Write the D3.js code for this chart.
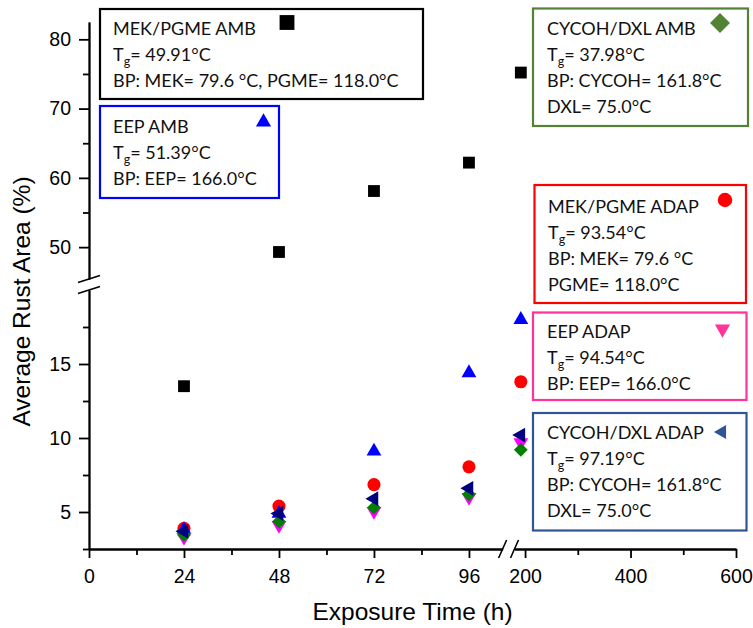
<!DOCTYPE html>
<html>
<head>
<meta charset="utf-8">
<script src="https://cdn.jsdelivr.net/npm/d3@7"></script>
<style>
  body { margin: 0; background: #fff; }
  text { font-family: "Liberation Sans", Arial, sans-serif; }
</style>
</head>
<body>
<svg id="chart" width="753" height="628"></svg>
<script>
// Exposure times (h) and average rust area (%) per coating
const hours = [24, 48, 72, 96, 192];
const mekPgmeAmb = [13.5, 49.3, 58.1, 62.2, 75.2];
const eepAmb = [3.8, 4.9, 9.1, 14.4, 18.0];
const cycohDxlAmb = [3.45, 4.35, 5.3, 6.2, 9.2];
const mekPgmeAdap = [3.9, 5.4, 6.85, 8.05, 13.8];
const eepAdap = [3.3, 4.1, 5.05, 6.0, 9.7];
const cycohDxlAdap = [3.7, 4.9, 5.9, 6.6, 10.2];

// tick labels
const xTicksLow = [0, 24, 48, 72, 96];
const xMinorLow = [12, 36, 60, 84];
const xTicksHigh = [200, 400, 600];
const xMinorHigh = [300, 500];
const yTicksLow = [5, 10, 15];
const yMinorLow = [2.5, 7.5, 12.5, 17.5];
const yTicksHigh = [50, 60, 70, 80];
const yMinorHigh = [55, 65, 75];

// legend texts
const legendNames = ["MEK/PGME AMB", "EEP AMB", "CYCOH/DXL AMB", "MEK/PGME ADAP", "EEP ADAP", "CYCOH/DXL ADAP"];
const legendTg = ["49.91", "51.39", "37.98", "93.54", "94.54", "97.19"];
const legendBP = [
  ["BP: MEK= 79.6 °C, PGME= 118.0°C"],
  ["BP: EEP= 166.0°C"],
  ["BP: CYCOH= 161.8°C", "DXL= 75.0°C"],
  ["BP: MEK= 79.6 °C", "PGME= 118.0°C"],
  ["BP: EEP= 166.0°C"],
  ["BP: CYCOH= 161.8°C", "DXL= 75.0°C"]
];

const seriesValues = [mekPgmeAmb, eepAmb, cycohDxlAmb, mekPgmeAdap, eepAdap, cycohDxlAdap];
const markerColors = ["#000000", "#0000ff", "#008000", "#ff0000", "#ff00ff", "#000080"];
const legendColors = ["#000000", "#0000ff", "#548235", "#ff0000", "#ff3399", "#2f5597"];
const shapes = [
  { type: d3.symbolSquare, rot: 0, size: 140, lsize: 220 },
  { type: d3.symbolTriangle, rot: 0, size: 95, lsize: 100 },
  { type: d3.symbolSquare, rot: 45, size: 95, lsize: 200 },
  { type: d3.symbolCircle, rot: 0, size: 135, lsize: 165 },
  { type: d3.symbolTriangle, rot: 180, size: 95, lsize: 100 },
  { type: d3.symbolTriangle, rot: -90, size: 95, lsize: 85 }
];
const drawOrder = [0, 3, 1, 4, 2, 5];

// legend box layout
const boxes = [
  { x: 100, y: 9, w: 323, h: 90, tx: 113, ty: 35, sx: 287, sy: 22.5 },
  { x: 100, y: 106, w: 179, h: 92, tx: 113, ty: 133, sx: 263.5, sy: 122 },
  { x: 533, y: 8.5, w: 215, h: 117.5, tx: 547, ty: 35, sx: 720, sy: 23 },
  { x: 534.5, y: 185, w: 211.5, h: 118, tx: 548, ty: 213, sx: 725, sy: 200 },
  { x: 533, y: 312.5, w: 213.5, h: 87.5, tx: 547, ty: 338, sx: 722.5, sy: 329 },
  { x: 533, y: 413, w: 213.5, h: 117.5, tx: 547, ty: 439, sx: 722, sy: 432 }
];

const svg = d3.select("#chart");

// broken scales
const xLow = d3.scaleLinear().domain([0, 104.5]).range([89, 502.6]);
const xHigh = d3.scaleLinear().domain([180, 600]).range([514.5, 736]);
const yLow = d3.scaleLinear().domain([2.5, 20]).range([549, 290]);
const yHigh = d3.scaleLinear().domain([45.4, 82.5]).range([279, 22]);
const xPos = t => t <= 104.5 ? xLow(t) : xHigh(t);
const yPos = v => v <= 20 ? yLow(v) : yHigh(v);

function styleAxis(g, labelSize) {
  g.select(".domain").attr("stroke", "#000").attr("stroke-width", 1.8);
  g.selectAll(".tick line").attr("stroke", "#000").attr("stroke-width", 1.8);
  g.selectAll(".tick text")
    .attr("fill", "#000")
    .style("font-family", "'Liberation Sans', Arial, sans-serif")
    .style("font-size", labelSize + "px");
}

// y axes
[[yLow, yTicksLow, yMinorLow], [yHigh, yTicksHigh, yMinorHigh]].forEach(([sc, major, minor]) => {
  svg.append("g").attr("transform", "translate(89,0)")
    .call(d3.axisLeft(sc).tickValues(minor).tickSize(6).tickSizeOuter(0).tickFormat(""))
    .call(g => styleAxis(g, 19.5));
  svg.append("g").attr("transform", "translate(89,0)")
    .call(d3.axisLeft(sc).tickValues(major).tickSize(10).tickSizeOuter(0).tickPadding(8).tickFormat(d3.format("d")))
    .call(g => styleAxis(g, 19.5));
});

// x axes
[[xLow, xTicksLow, xMinorLow], [xHigh, xTicksHigh, xMinorHigh]].forEach(([sc, major, minor]) => {
  svg.append("g").attr("transform", "translate(0,549)")
    .call(d3.axisBottom(sc).tickValues(minor).tickSize(6).tickSizeOuter(0).tickFormat(""))
    .call(g => styleAxis(g, 19.5));
  svg.append("g").attr("transform", "translate(0,549)")
    .call(d3.axisBottom(sc).tickValues(major).tickSize(9).tickSizeOuter(0).tickPadding(11).tickFormat(d3.format("d")))
    .call(g => styleAxis(g, 19.5));
});

// break marks
const breaks = svg.append("g").attr("stroke", "#000").attr("stroke-width", 1.6);
[yLow.range()[1], yHigh.range()[0]].forEach(yy => {
  breaks.append("line").attr("x1", 78).attr("y1", yy + 3.5).attr("x2", 100).attr("y2", yy - 3.5);
});
[xLow.range()[1], xHigh.range()[0]].forEach(xx => {
  breaks.append("line").attr("x1", xx - 4).attr("y1", 558).attr("x2", xx + 4).attr("y2", 540);
});

// axis titles
svg.append("text")
  .attr("x", 412.5).attr("y", 620)
  .attr("text-anchor", "middle")
  .style("font-size", "24.5px")
  .text("Exposure Time (h)");

svg.append("text")
  .attr("transform", "translate(30,301.5) rotate(-90)")
  .attr("text-anchor", "middle")
  .style("font-size", "24.5px")
  .text("Average Rust Area (%)");

// data markers
const symbolPath = (i, big) => d3.symbol().type(shapes[i].type).size(big ? shapes[i].lsize : shapes[i].size)();

drawOrder.forEach(i => {
  svg.append("g")
    .selectAll("path")
    .data(hours.map((h, k) => ({ h: h, v: seriesValues[i][k] })))
    .join("path")
    .attr("d", symbolPath(i, false))
    .attr("transform", d => `translate(${xPos(d.h)},${yPos(d.v)}) rotate(${shapes[i].rot})`)
    .attr("fill", markerColors[i]);
});

// legend boxes
boxes.forEach((b, i) => {
  const g = svg.append("g");
  g.append("rect")
    .attr("x", b.x).attr("y", b.y).attr("width", b.w).attr("height", b.h)
    .attr("fill", "#fff")
    .attr("stroke", legendColors[i])
    .attr("stroke-width", 2.2);

  const lines = [legendNames[i], null].concat(legendBP[i]);
  lines.forEach((ln, k) => {
    const t = g.append("text")
      .attr("x", b.tx).attr("y", b.ty + k * 26)
      .attr("fill", "#111")
      .style("font-family", "Lato, 'Open Sans', sans-serif")
      .style("font-size", "18px");
    if (ln === null) {
      t.append("tspan").text("T");
      t.append("tspan").attr("dy", 5).style("font-size", "12.5px").text("g");
      t.append("tspan").attr("dy", -5).text("= " + legendTg[i] + "°C");
    } else {
      t.text(ln);
    }
  });

  g.append("path")
    .attr("d", symbolPath(i, true))
    .attr("transform", `translate(${b.sx},${b.sy}) rotate(${shapes[i].rot})`)
    .attr("fill", legendColors[i]);
});
</script>
</body>
</html>
